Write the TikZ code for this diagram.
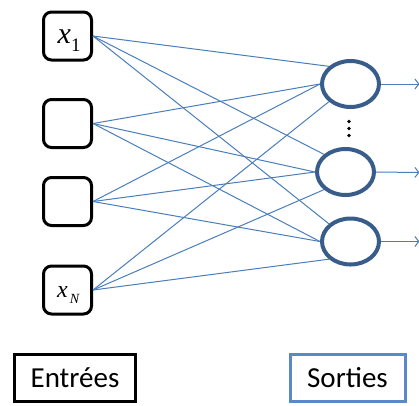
\documentclass[tikz,border=0pt]{standalone}
\usepackage{fontspec}
\setsansfont{Carlito}
\newfontfamily\tnr{Liberation Serif}
\usetikzlibrary{shapes.geometric,arrows.meta}
\definecolor{conn}{HTML}{4A7EBB}
\definecolor{circ}{HTML}{385D8A}
\definecolor{sortb}{HTML}{5A8AC6}
\tikzset{
  inbox/.style={draw=black, line width=3pt, rounded corners=8pt, minimum width=48pt, minimum height=48pt, inner sep=0pt},
  outcirc/.style={ellipse, draw=circ, line width=4pt, minimum width=57pt, minimum height=46pt, inner sep=0pt},
  link/.style={draw=conn, line width=1pt},
  outarrow/.style={draw=conn, line width=1pt, -{Straight Barb[length=4pt,width=10pt]}},
  lbl/.style={font=\sffamily\fontsize{29pt}{30pt}\selectfont, line width=3pt, minimum height=47pt, inner sep=0pt},
  var/.style={anchor=base west, inner sep=0pt, font=\tnr}
}
\begin{document}
\begin{tikzpicture}[x=1pt,y=-1pt]
\useasboundingbox (0,0) rectangle (419,405);
\node[inbox] (i1) at (67.5,36) {};
\node[inbox] (i2) at (67.5,123.5) {};
\node[inbox] (i3) at (67.5,201.5) {};
\node[inbox] (i4) at (67.5,290) {};
\node[var] (v1) at (57.5,43) {\fontsize{30pt}{30pt}\selectfont\itshape x\raisebox{-8pt}{\fontsize{19pt}{19pt}\selectfont\upshape 1}};
\node[var] (vN) at (57,297) {\fontsize{24pt}{24pt}\selectfont\itshape x\hspace{2pt}\raisebox{-6pt}{\fontsize{14pt}{14pt}\selectfont N}};
\node[outcirc] (c1) at (350.5,84) {};
\node[outcirc] (c2) at (345.5,172) {};
\node[outcirc] (c3) at (350.5,241.5) {};
\path[link] (i1.east) -- (c1.north west);
\path[link] (i2.east) -- (c1.west);
\path[link] (i3.east) -- (c1.west);
\path[link] (i4.east) -- (c1.south west);
\path[link] (i1.east) -- (c2.north west);
\path[link] (i2.east) -- (c2.west);
\path[link] (i3.east) -- (c2.west);
\path[link] (i4.east) -- (c2.south west);
\path[link] (i1.east) -- (c3.north west);
\path[link] (i2.east) -- (c3.west);
\path[link] (i3.east) -- (c3.west);
\path[link] (i4.east) -- (c3.south west);
\coordinate (o1) at (419.5,84);
\coordinate (o2) at (419.5,172.5);
\coordinate (o3) at (419.5,241.5);
\path[outarrow] (c1.east) -- (o1);
\path[outarrow] (c2.east) -- (o2);
\path[outarrow] (c3.east) -- (o3);
\fill (349,121.5) circle (1.8pt);
\fill (349,128.5) circle (1.8pt);
\fill (349,135.5) circle (1.8pt);
\node[lbl, draw=black, minimum width=121pt] (ent) at (75,378) {Entr\'ees};
\node[lbl, draw=sortb, minimum width=115pt] (sor) at (347.5,378) {Sorties};
\end{tikzpicture}
\end{document}
